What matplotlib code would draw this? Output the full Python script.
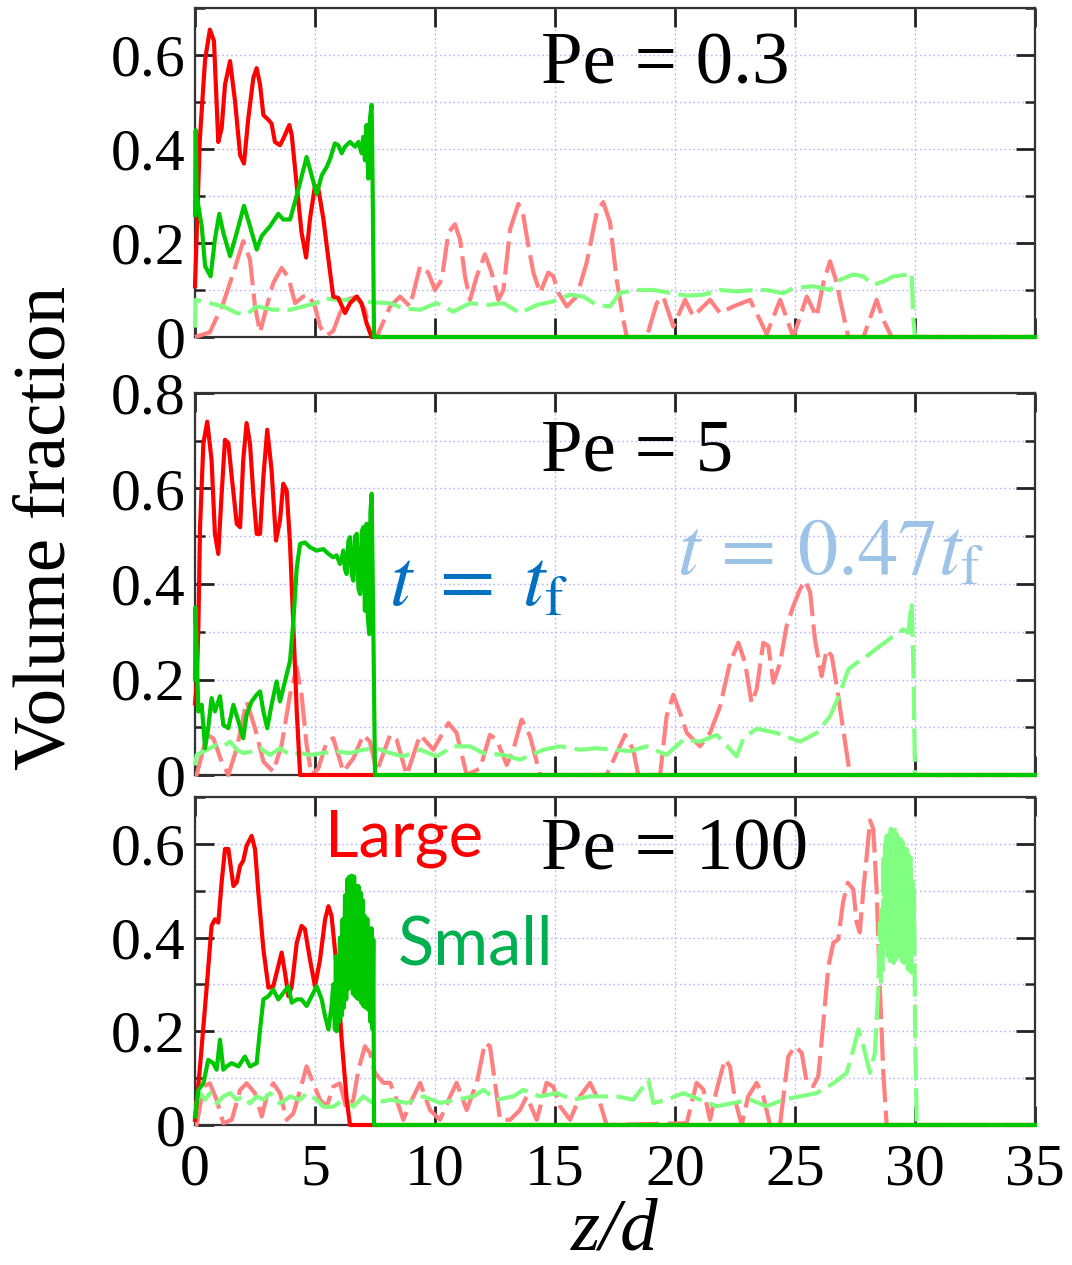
import matplotlib
matplotlib.use('Agg')
import matplotlib.pyplot as plt
from matplotlib.ticker import MultipleLocator, FuncFormatter

# ---- Pe = 0.3 ----
p1_large_x = [0, 0.2, 0.42, 0.62, 0.79, 0.97, 1.11, 1.25, 1.46, 1.67, 1.88, 2.04, 2.22, 2.43, 2.57, 2.71, 2.85, 3.06, 3.19, 3.33,
              3.54, 3.68, 3.93, 4.03, 4.24, 4.44, 4.63, 4.79, 5.0, 5.14, 5.35, 5.56, 5.76, 5.97, 6.25, 6.46, 6.74, 6.94, 7.15, 7.36, 35]
p1_large_y = [0.108, 0.42, 0.59, 0.654, 0.63, 0.415, 0.444, 0.537, 0.587, 0.501, 0.387, 0.369, 0.465, 0.551, 0.572, 0.537, 0.472, 0.462, 0.454, 0.415,
              0.408, 0.422, 0.451, 0.43, 0.322, 0.222, 0.169, 0.251, 0.322, 0.315, 0.251, 0.165, 0.086, 0.083, 0.051, 0.072, 0.086, 0.072, 0.029, 0.0, 0.0]
p1_small_x = [0, 0.03, 0.07, 0.14, 0.28, 0.42, 0.65, 0.83, 1.01, 1.18, 1.46, 1.74, 2.04, 2.29, 2.57, 2.78, 3.13, 3.47, 3.68, 3.96, 4.24, 4.65,
              4.86, 5.07, 5.28, 5.49, 5.63, 5.83, 5.97, 6.11, 6.25, 6.46, 6.67, 6.81, 6.94, 7.01, 7.08, 7.15, 7.22, 7.29, 7.36, 7.40, 7.46, 35]
p1_small_y = [0.26, 0.44, 0.3, 0.279, 0.236, 0.151, 0.129, 0.208, 0.262, 0.222, 0.172, 0.222, 0.279, 0.236, 0.186, 0.215, 0.236, 0.262, 0.25, 0.25, 0.301, 0.383,
              0.344, 0.304, 0.344, 0.362, 0.379, 0.412, 0.408, 0.391, 0.405, 0.415, 0.405, 0.415, 0.391, 0.426, 0.376, 0.451, 0.337, 0.465, 0.494, 0.329, 0.0, 0.0]
p1_large047_x = [0, 0.62, 1.18, 1.6, 2.01, 2.29, 2.5, 2.71, 2.99, 3.26, 3.61, 3.89, 4.17, 4.51, 4.72, 5.0, 5.21, 5.49, 5.76, 6.04, 6.39, 6.74,
                 7.08, 7.29, 7.57, 8.13, 8.54, 8.96, 9.38, 9.72, 10.0, 10.28, 10.56, 10.83, 11.04, 11.25, 11.46, 11.74, 12.08, 12.36, 12.64, 12.85,
                 13.13, 13.47, 13.68, 13.89, 14.1, 14.38, 14.72, 14.93, 15.14, 15.49, 15.9, 16.32, 16.74, 17.01, 17.29, 17.57, 17.85, 17.99, 18.82,
                 19.24, 19.51, 19.93, 20.42, 20.76, 21.18, 21.46, 21.88, 22.43, 23.13, 23.54, 23.82, 24.38, 24.93, 25.49, 25.9, 26.18, 26.46, 26.74,
                 26.88, 27.22, 27.85, 28.4, 28.68, 29.03, 35]
p1_large047_y = [0, 0.01, 0.072, 0.137, 0.204, 0.165, 0.065, 0.01, 0.065, 0.115, 0.147, 0.127, 0.072, 0.086, 0.09, 0.065, 0.022, 0.003, 0.013, 0.051, 0.08, 0.086,
                 0.058, 0.01, 0.0, 0.065, 0.086, 0.065, 0.151, 0.137, 0.1, 0.122, 0.222, 0.24, 0.208, 0.129, 0.079, 0.129, 0.176, 0.137, 0.079, 0.1,
                 0.229, 0.283, 0.258, 0.194, 0.137, 0.094, 0.137, 0.129, 0.094, 0.065, 0.086, 0.158, 0.265, 0.287, 0.244, 0.122, 0.036, 0.0, 0.0,
                 0.072, 0.086, 0.022, 0.079, 0.044, 0.065, 0.079, 0.051, 0.065, 0.079, 0.036, 0.006, 0.079, 0.0, 0.086, 0.043, 0.115, 0.161, 0.115,
                 0.079, 0.0, 0.0, 0.079, 0.036, 0.0, 0.0]
p1_small047_x = [0, 0.03, 0.62, 1.18, 1.74, 2.15, 2.57, 3.26, 3.96, 4.51, 5.07, 5.35, 5.9, 6.74, 7.29, 8.13, 8.68, 9.38, 10.07, 10.76, 11.46,
                 12.15, 12.85, 13.54, 14.24, 14.93, 15.63, 16.18, 16.74, 17.29, 17.71, 18.4, 19.1, 19.79, 20.49, 21.18, 21.88, 22.57, 23.26, 23.82,
                 24.51, 24.93, 25.76, 26.46, 26.88, 27.43, 27.85, 28.26, 28.68, 29.1, 29.79, 29.86, 29.93, 30.0, 35]
p1_small047_y = [0.02, 0.079, 0.072, 0.065, 0.051, 0.048, 0.065, 0.058, 0.058, 0.065, 0.072, 0.083, 0.079, 0.079, 0.074, 0.072, 0.061, 0.058, 0.072, 0.054, 0.072,
                 0.068, 0.072, 0.051, 0.068, 0.076, 0.09, 0.086, 0.068, 0.065, 0.094, 0.1, 0.1, 0.094, 0.088, 0.09, 0.1, 0.097, 0.1, 0.1,
                 0.093, 0.104, 0.108, 0.1, 0.122, 0.133, 0.129, 0.111, 0.118, 0.129, 0.133, 0.136, 0.04, 0.0, 0.0]

# ---- Pe = 5 ----
p2_large_x = [0, 0.07, 0.14, 0.21, 0.35, 0.51, 0.69, 0.83, 0.97, 1.11, 1.25, 1.39, 1.53, 1.74, 1.88, 2.01, 2.15, 2.29, 2.43, 2.57, 2.71, 2.85,
              3.01, 3.19, 3.375, 3.54, 3.68, 3.82, 3.96, 4.1, 4.24, 4.38, 35]
p2_large_y = [0.15, 0.19, 0.309, 0.519, 0.695, 0.74, 0.66, 0.505, 0.463, 0.589, 0.702, 0.695, 0.625, 0.526, 0.519, 0.66, 0.737, 0.695, 0.589, 0.505, 0.505, 0.625,
              0.723, 0.639, 0.491, 0.533, 0.61, 0.596, 0.484, 0.309, 0.133, 0.0, 0.0]
p2_small_x = [0, 0.02, 0.14, 0.28, 0.42, 0.55, 0.69, 0.83, 1.04, 1.18, 1.39, 1.6, 1.81, 2.01, 2.15, 2.36, 2.57, 2.71, 2.85, 3.01, 3.19, 3.4, 3.54,
              3.75, 3.96, 4.1, 4.24, 4.38, 4.58, 4.79, 5.07, 5.35, 5.56, 5.76, 5.9, 6.04, 6.12, 6.18, 6.25, 6.32, 6.39, 6.46, 6.53, 6.6, 6.67,
              6.74, 6.81, 6.88, 6.95, 7.01, 7.08, 7.15, 7.2, 7.26, 7.31, 7.36, 7.43, 7.5, 35]
p2_small_y = [0.2, 0.351, 0.133, 0.147, 0.056, 0.098, 0.161, 0.133, 0.165, 0.105, 0.098, 0.147, 0.112, 0.077, 0.126, 0.154, 0.168, 0.175, 0.133, 0.098, 0.147, 0.196, 0.154,
              0.196, 0.239, 0.323, 0.435, 0.484, 0.487, 0.477, 0.47, 0.473, 0.463, 0.456, 0.46, 0.442, 0.455, 0.47, 0.43, 0.421, 0.49, 0.498, 0.42, 0.407, 0.5,
              0.505, 0.39, 0.379, 0.51, 0.519, 0.344, 0.526, 0.33, 0.295, 0.55, 0.589, 0.309, 0.0, 0.0]
p2_large047_x = [0, 0.07, 0.49, 0.76, 1.11, 1.39, 1.74, 2.15, 2.5, 2.85, 3.26, 3.61, 3.96, 4.24, 4.44, 4.65, 4.86, 5.14, 5.49, 5.76, 6.18, 6.6,
                 7.01, 7.29, 7.57, 8.13, 8.4, 8.82, 9.38, 9.93, 10.56, 10.9, 11.32, 11.88, 12.29, 12.57, 12.99, 13.26, 13.61, 13.96, 14.38, 17.15,
                 17.57, 17.92, 18.26, 18.47, 19.38, 19.65, 19.93, 20.21, 20.49, 21.04, 21.46, 21.88, 22.29, 22.64, 22.92, 23.19, 23.4, 23.68, 23.89,
                 24.1, 24.38, 24.65, 24.93, 25.21, 25.42, 25.63, 25.83, 26.11, 26.32, 26.53, 26.74, 27.01, 27.29, 35]
p2_large047_y = [0, 0.0, 0.084, 0.077, 0.028, 0.0, 0.056, 0.154, 0.098, 0.028, 0.007, 0.063, 0.168, 0.225, 0.168, 0.063, 0.0, 0.014, 0.07, 0.077, 0.007, 0.035,
                 0.084, 0.07, 0.007, 0.084, 0.074, 0.0, 0.084, 0.053, 0.109, 0.088, 0.0, 0.014, 0.084, 0.074, 0.021, 0.053, 0.116, 0.081, 0.0, 0.0,
                 0.046, 0.084, 0.053, 0.0, 0.0, 0.123, 0.168, 0.13, 0.088, 0.06, 0.088, 0.144, 0.235, 0.277, 0.235, 0.151, 0.179, 0.277, 0.27,
                 0.193, 0.235, 0.312, 0.354, 0.389, 0.407, 0.383, 0.284, 0.207, 0.263, 0.249, 0.186, 0.095, 0.0, 0.0]
p2_small047_x = [0, 0.07, 0.35, 0.62, 0.9, 1.18, 1.46, 1.74, 2.01, 2.36, 2.71, 3.13, 3.54, 3.96, 4.38, 4.79, 5.35, 5.9, 6.46, 7.01, 7.57,
                 8.13, 8.68, 9.38, 10.07, 10.76, 11.46, 12.01, 12.85, 13.54, 14.51, 15.21, 16.04, 16.74, 17.43, 18.13, 18.82, 19.65, 20.35, 21.04,
                 21.74, 22.57, 22.85, 23.4, 24.24, 25.21, 25.9, 26.46, 26.88, 27.22, 27.57, 27.99, 28.54, 29.1, 29.51, 29.72, 29.86, 29.93, 30.0, 35]
p2_small047_y = [0.02, 0.042, 0.049, 0.056, 0.063, 0.06, 0.07, 0.053, 0.046, 0.049, 0.056, 0.042, 0.056, 0.042, 0.046, 0.042, 0.046, 0.049, 0.046, 0.053, 0.056,
                 0.046, 0.039, 0.053, 0.039, 0.06, 0.06, 0.046, 0.042, 0.032, 0.053, 0.06, 0.053, 0.056, 0.053, 0.05, 0.06, 0.042, 0.074, 0.07,
                 0.084, 0.039, 0.077, 0.097, 0.088, 0.07, 0.088, 0.123, 0.172, 0.221, 0.235, 0.249, 0.27, 0.291, 0.305, 0.298, 0.361, 0.235, 0.0, 0.0]

# ---- Pe = 100 ----
p3_large_x = [0, 0.21, 0.49, 0.69, 0.83, 0.97, 1.11, 1.25, 1.39, 1.6, 1.74, 1.88, 2.01, 2.15, 2.36, 2.5, 2.64, 2.85, 3.06, 3.26, 3.47, 3.61,
              3.75, 3.89, 4.03, 4.24, 4.44, 4.58, 4.79, 5.0, 5.21, 5.42, 5.56, 5.69, 5.9, 6.11, 6.32, 6.46, 35]
p3_large_y = [0.011, 0.125, 0.296, 0.425, 0.439, 0.432, 0.518, 0.589, 0.589, 0.51, 0.518, 0.553, 0.564, 0.596, 0.617, 0.589, 0.496, 0.375, 0.293, 0.296, 0.339, 0.368,
              0.325, 0.275, 0.296, 0.389, 0.425, 0.418, 0.353, 0.296, 0.353, 0.439, 0.467, 0.446, 0.339, 0.182, 0.054, 0.0, 0.0]
p3_small_x = [0, 0.14, 0.35, 0.55, 0.76, 0.9, 1.04, 1.18, 1.32, 1.53, 1.81, 2.08, 2.29, 2.57, 2.71, 2.85, 3.06, 3.26, 3.47, 3.68, 3.89, 4.03,
              4.24, 4.44, 4.65, 4.86, 5.07, 5.28, 5.42, 5.56, 5.69, 5.76, 5.83, 5.87, 5.9, 5.95, 6.0, 6.04, 6.1, 6.15, 6.2, 6.25, 6.3, 6.35, 6.39,
              6.43, 6.48, 6.53, 6.58, 6.63, 6.67, 6.71, 6.76, 6.81, 6.85, 6.9, 6.94, 6.99, 7.03, 7.08, 7.13, 7.18, 7.22, 7.26, 7.31, 7.35, 7.40,
              7.43, 7.46, 35]
p3_small_y = [0.018, 0.075, 0.089, 0.139, 0.132, 0.118, 0.182, 0.118, 0.125, 0.132, 0.125, 0.146, 0.125, 0.132, 0.204, 0.268, 0.275, 0.289, 0.268, 0.282, 0.296, 0.261,
              0.268, 0.268, 0.254, 0.275, 0.296, 0.268, 0.232, 0.204, 0.254, 0.3, 0.204, 0.36, 0.2, 0.339, 0.22, 0.4, 0.232, 0.439, 0.25, 0.49, 0.268, 0.525,
              0.29, 0.53, 0.296, 0.532, 0.28, 0.53, 0.275, 0.51, 0.27, 0.51, 0.268, 0.496, 0.26, 0.48, 0.253, 0.446, 0.25, 0.44, 0.246, 0.41, 0.22,
              0.42, 0.204, 0.396, 0.0, 0.0]
p3_large047_x = [0, 0.07, 0.35, 0.62, 0.9, 1.18, 1.53, 1.88, 2.15, 2.5, 2.78, 2.99, 3.26, 3.54, 3.82, 4.1, 4.38, 4.65, 4.93, 5.21, 5.49, 5.76,
                 6.04, 6.32, 6.6, 6.81, 7.08, 7.29, 7.5, 7.85, 8.13, 8.4, 8.68, 8.96, 9.38, 9.79, 10.21, 10.63, 10.9, 11.32, 11.74, 12.08, 12.29,
                 12.5, 12.71, 13.13, 13.54, 13.82, 14.24, 14.65, 14.93, 15.21, 15.63, 16.04, 16.46, 16.88, 17.15, 20.49, 20.9, 21.18, 21.46, 21.74,
                 22.08, 22.29, 22.5, 22.78, 23.05, 23.4, 23.68, 23.96, 24.375, 24.72, 25.0, 25.28, 25.49, 25.76, 25.97, 26.18, 26.39, 26.6, 26.8,
                 27.0, 27.2, 27.43, 27.57, 27.7, 27.85, 27.99, 28.125, 28.26, 28.4, 28.54, 28.68, 28.82, 35]
p3_large047_y = [0.0, 0.0, 0.082, 0.089, 0.054, 0.004, 0.011, 0.075, 0.089, 0.068, 0.018, 0.061, 0.089, 0.068, 0.011, 0.025, 0.075, 0.125, 0.089, 0.054, 0.039, 0.082,
                 0.089, 0.032, 0.054, 0.118, 0.168, 0.154, 0.111, 0.09, 0.09, 0.054, 0.011, 0.046, 0.09, 0.032, 0.011, 0.061, 0.09, 0.032, 0.09, 0.175, 0.168,
                 0.09, 0.011, 0.011, 0.032, 0.061, 0.011, 0.09, 0.082, 0.04, 0.011, 0.061, 0.09, 0.046, 0.0, 0.004, 0.09, 0.076, 0.011, 0.076,
                 0.14, 0.125, 0.054, 0.0, 0.061, 0.09, 0.061, 0.0, 0.0, 0.146, 0.168, 0.154, 0.09, 0.083, 0.104, 0.218, 0.339, 0.389, 0.396,
                 0.475, 0.517, 0.503, 0.432, 0.411, 0.503, 0.575, 0.65, 0.632, 0.503, 0.289, 0.111, 0.0, 0.0]
p3_small047_x = [0, 0.21, 0.42, 0.62, 0.9, 1.18, 1.46, 1.74, 2.01, 2.29, 2.57, 2.85, 3.13, 3.54, 3.96, 4.38, 4.65, 5.07, 5.35, 5.76, 6.18,
                 6.6, 7.01, 7.43, 8.13, 8.82, 9.51, 10.21, 10.9, 11.6, 12.01, 12.57, 13.26, 13.68, 14.38, 15.07, 15.76, 16.46, 17.57, 18.26, 18.89,
                 19.1, 19.65, 20.35, 21.04, 21.74, 22.43, 23.13, 23.82, 24.51, 25.21, 25.9, 26.6, 27.15, 27.43, 27.64, 27.85, 28.125, 28.33, 28.47,
                 28.54, 28.58, 28.61, 28.65, 28.68, 28.72, 28.75, 28.78, 28.82, 28.87, 28.92, 28.96, 28.99, 29.03, 29.07, 29.11, 29.15, 29.2, 29.24,
                 29.28, 29.32, 29.36, 29.4, 29.45, 29.49, 29.53, 29.57, 29.61, 29.65, 29.7, 29.74, 29.78, 29.82, 29.86, 29.9, 29.93, 29.96,
                 30.0, 30.07, 35]
p3_small047_y = [0.039, 0.068, 0.054, 0.068, 0.046, 0.061, 0.068, 0.054, 0.061, 0.046, 0.061, 0.054, 0.068, 0.046, 0.061, 0.054, 0.068, 0.054, 0.039, 0.039, 0.054,
                 0.039, 0.061, 0.046, 0.054, 0.047, 0.061, 0.047, 0.054, 0.061, 0.075, 0.054, 0.061, 0.075, 0.061, 0.068, 0.054, 0.061, 0.061, 0.054, 0.096,
                 0.047, 0.054, 0.068, 0.054, 0.04, 0.047, 0.054, 0.04, 0.054, 0.061, 0.068, 0.089, 0.111, 0.161, 0.204, 0.168, 0.111, 0.154, 0.29,
                 0.432, 0.30, 0.46, 0.33, 0.575, 0.38, 0.60, 0.40, 0.617, 0.36, 0.62, 0.35, 0.632, 0.35, 0.63, 0.346, 0.635, 0.353, 0.62,
                 0.36, 0.617, 0.36, 0.61, 0.35, 0.603, 0.346, 0.59, 0.34, 0.589, 0.332, 0.575, 0.33, 0.57, 0.325, 0.52, 0.40, 0.503,
                 0.218, 0.0, 0.0]

pe_labels = ['Pe = 0.3', 'Pe = 5', 'Pe = 100']
y_maxes = [0.7, 0.8, 0.7]

RED, GREEN = '#ff0000', '#00c800'
LRED, LGREEN = '#ff8080', '#80ff80'
SERIF = 'Liberation Serif'
SANS = 'Lato'

fig = plt.figure(figsize=(10.72, 12.65), dpi=100)
W, H = 1072.0, 1265.0
# axes boxes in pixels: (top, bottom)
boxes = [(8, 337), (393, 775), (797, 1125)]
axes = []
for top, bot in boxes:
    ax = fig.add_axes([195 / W, 1 - bot / H, 840 / W, (bot - top) / H])
    axes.append(ax)

series = [
    (p1_large047_x, p1_large047_y, p1_small047_x, p1_small047_y, p1_large_x, p1_large_y, p1_small_x, p1_small_y),
    (p2_large047_x, p2_large047_y, p2_small047_x, p2_small047_y, p2_large_x, p2_large_y, p2_small_x, p2_small_y),
    (p3_large047_x, p3_large047_y, p3_small047_x, p3_small047_y, p3_large_x, p3_large_y, p3_small_x, p3_small_y),
]

fmt = FuncFormatter(lambda v, p: '0' if abs(v) < 1e-9 else '%g' % round(v, 2))

for i, ax in enumerate(axes):
    lx, ly, sx, sy, Lx, Ly, Sx, Sy = series[i]
    ax.plot(lx, ly, color=LRED, lw=3.0, dashes=(8, 2.0), clip_on=False, zorder=3)
    ax.plot(sx, sy, color=LGREEN, lw=3.0, dashes=(8, 2.0), clip_on=False, zorder=3)
    ax.plot(Lx, Ly, color=RED, lw=3.0, clip_on=False, zorder=4)
    ax.plot(Sx, Sy, color=GREEN, lw=3.0, clip_on=False, zorder=5)

    ax.set_xlim(0, 35)
    ax.set_ylim(0, y_maxes[i])
    ax.xaxis.set_major_locator(MultipleLocator(5))
    ax.yaxis.set_major_locator(MultipleLocator(0.2))
    ax.yaxis.set_minor_locator(MultipleLocator(0.1))
    ax.yaxis.set_major_formatter(fmt)
    ax.grid(which='both', color='#b4b4ff', linestyle=(0, (1.2, 2)), linewidth=1.0)
    ax.set_axisbelow(True)
    ax.tick_params(which='both', direction='in', top=True, right=True, labelsize=43, labelfontfamily=SERIF)
    ax.tick_params(which='major', length=14, width=2, color='#222222')
    ax.tick_params(which='minor', length=7, width=1.8, color='#222222')
    ax.tick_params(axis='y', pad=7)
    ax.tick_params(axis='x', pad=13)
    for s in ax.spines.values():
        s.set_linewidth(1.6)
        s.set_color('#333333')
    if i < 2:
        ax.tick_params(axis='x', labelbottom=False)

pe_y = [0.54, 0.638, 0.546]
for ax, lab, yy in zip(axes, pe_labels, pe_y):
    ax.text(14.4, yy, lab, fontsize=54, family=SERIF, ha='left', va='baseline')

axes[1].text(8.1, 0.356, r'$t\;=\;t_{\mathrm{f}}$', fontsize=58, color='#0070c0', math_fontfamily='stix',
             ha='left', va='baseline')
axes[1].text(20.1, 0.42, r'$t\,=\,0.47t_{\mathrm{f}}$', fontsize=58, color='#9dc3e6', math_fontfamily='stix',
             ha='left', va='baseline')

axes[2].text(5.4, 0.572, 'Large', fontsize=47, family=[SANS, 'DejaVu Sans'], color='#ff0000', ha='left', va='baseline')
axes[2].text(8.45, 0.343, 'Small', fontsize=48, family=[SANS, 'DejaVu Sans'], color='#00b050', ha='left', va='baseline')

fig.text(47 / W, 1 - 528 / H, 'Volume fraction', rotation=90, fontsize=54, family=SERIF, ha='center', va='center')
fig.text(615 / W, 1 - 1232 / H, 'z/d', fontsize=54, family=SERIF, style='italic', ha='center', va='center')

fig.savefig('out.png', dpi=100)
